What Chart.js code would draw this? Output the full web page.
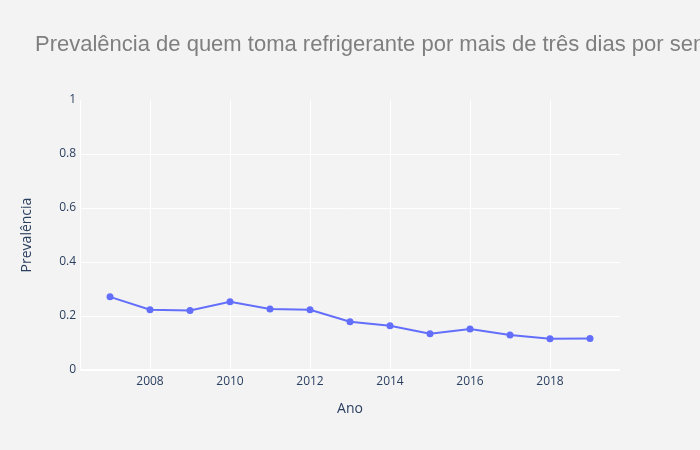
<!DOCTYPE html>
<html>
<head>
<meta charset="utf-8">
<script src="https://cdn.jsdelivr.net/npm/chart.js@4"></script>
<style>
html,body{margin:0;padding:0;background:#f3f3f3;}
#wrap{width:700px;height:450px;position:relative;}
</style>
</head>
<body>
<div id="wrap"><canvas id="c" width="700" height="450"></canvas></div>
<script>
const titleText = "Prevalência de quem toma refrigerante por mais de três dias por semana";
const years = [2007,2008,2009,2010,2011,2012,2013,2014,2015,2016,2017,2018,2019];
const prevalencia = [0.271,0.223,0.220,0.253,0.226,0.223,0.179,0.164,0.134,0.152,0.130,0.116,0.117];
const xTicks = [2008,2010,2012,2014,2016,2018];
const yTicks = [0,0.2,0.4,0.6,0.8,1];

const tickColor = '#2a3f5f';
const bgPlugin = {
  id:'bg',
  beforeDraw(chart){
    const ctx = chart.ctx;
    ctx.save();
    ctx.fillStyle = '#f3f3f3';
    ctx.fillRect(0,0,chart.width,chart.height);
    ctx.restore();
  },
  afterDraw(chart){
    const ctx = chart.ctx;
    ctx.save();
    ctx.font = '22px "Liberation Sans", Arial, sans-serif';
    ctx.fillStyle = '#7f7f7f';
    ctx.textBaseline = 'alphabetic';
    ctx.textAlign = 'left';
    ctx.fillText(titleText, 35, 51);
    ctx.restore();
  }
};

new Chart(document.getElementById('c'), {
  type:'line',
  data:{
    datasets:[{
      data: years.map((y,i)=>({x:y, y:prevalencia[i]})),
      borderColor:'#636efa',
      backgroundColor:'#636efa',
      borderWidth:2,
      pointRadius:3.5,
      pointHoverRadius:3.5,
      pointBorderWidth:0,
      tension:0,
      clip:false
    }]
  },
  options:{
    responsive:false,
    animation:false,
    layout:{padding:{top:100,right:80,left:0,bottom:0}},
    plugins:{legend:{display:false},tooltip:{enabled:false},title:{display:false}},
    scales:{
      x:{
        type:'linear',
        min:2006.25,
        max:2019.75,
        afterBuildTicks(s){ s.ticks = xTicks.map(v=>({value:v})); },
        afterFit(s){ s.height = 80; },
        grid:{color:'#ffffff', lineWidth:1, drawTicks:false},
        border:{display:false},
        ticks:{color:tickColor, padding:4, font:{family:'"Open Sans", sans-serif', size:12}, callback:v=>String(v), maxRotation:0, autoSkip:false},
        title:{display:true, text:'Ano', color:tickColor, font:{family:'"Open Sans", sans-serif', size:14}, padding:{top:0,bottom:33}}
      },
      y:{
        min:0,
        max:1,
        afterBuildTicks(s){ s.ticks = yTicks.map(v=>({value:v})); },
        afterFit(s){ s.width = 80; },
        grid:{color:ctx => (ctx.tick && ctx.tick.value === 1) ? 'rgba(0,0,0,0)' : '#ffffff', lineWidth:ctx => (ctx.tick && ctx.tick.value === 0) ? 2 : 1, drawTicks:false},
        border:{display:true, color:'#ffffff', width:1},
        ticks:{color:tickColor, padding:4, font:{family:'"Open Sans", sans-serif', size:12}, callback:v=>String(v)},
        title:{display:true, text:'Prevalência', color:tickColor, font:{family:'"Open Sans", sans-serif', size:14}, padding:{top:19,bottom:0}}
      }
    }
  },
  plugins:[bgPlugin]
});
</script>
</body>
</html>
